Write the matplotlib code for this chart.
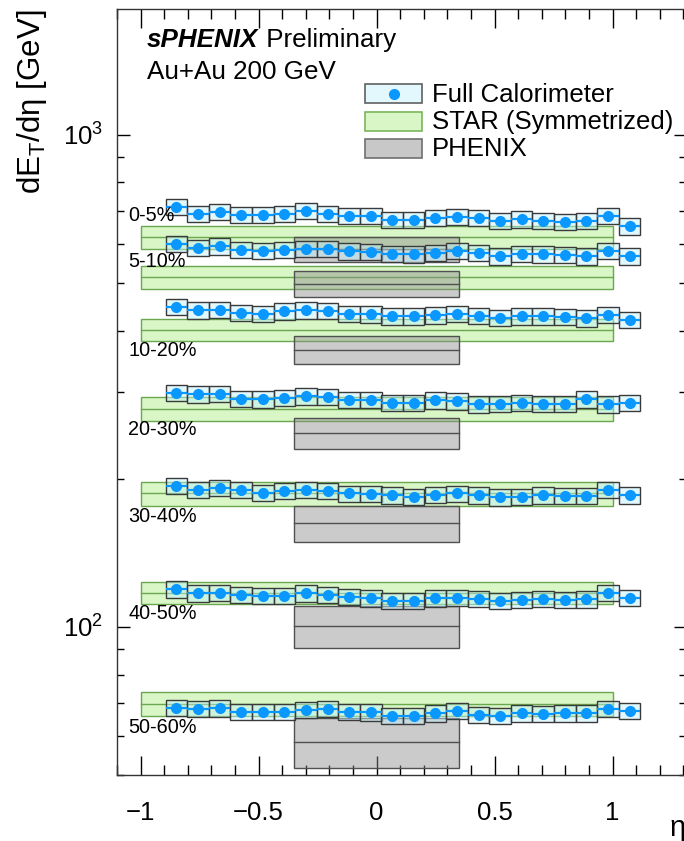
import numpy as np
import matplotlib
matplotlib.use("Agg")
import matplotlib.pyplot as plt
from matplotlib.patches import Rectangle
from matplotlib.lines import Line2D
from matplotlib.ticker import LogLocator, NullFormatter, MultipleLocator, FuncFormatter

plt.rcParams['font.family'] = ['Liberation Sans', 'DejaVu Sans']

# eta bin centres of the calorimeter measurement, bin width 0.0914
eta = [-0.848, -0.757, -0.665, -0.574, -0.482, -0.391, -0.300, -0.208, -0.117, -0.025, 0.066,
       0.157, 0.249, 0.340, 0.432, 0.523, 0.614, 0.706, 0.797, 0.889, 0.980, 1.072]
bin_width = 0.0914
calo_sys = 0.038  # relative systematic, drawn as boxes

centralities = ["0-5%", "5-10%", "10-20%", "20-30%", "30-40%", "40-50%", "50-60%"]

# sPHENIX full calorimeter dE_T/deta [GeV]
calo_0_5 = [713, 691, 696, 688, 686, 691, 699, 691, 683, 683, 672,
            672, 678, 680, 677, 668, 673, 668, 665, 668, 683, 651]
calo_5_10 = [600.6, 589.5, 593, 584, 580, 584, 587, 587, 579, 577, 573,
             571, 575, 580, 575, 566, 573, 571, 569, 566, 580, 566]
calo_10_20 = [446.6, 439.8, 441.2, 434.2, 433.0, 437.7, 439.8, 438.4, 433.0, 431.6, 427.6,
              427.6, 429.5, 433.0, 428.2, 425.0, 427.6, 427.6, 426.2, 423.6, 430.9, 421.0]
calo_20_30 = [299.2, 296.9, 297.8, 290.9, 290.0, 291.8, 294.1, 293.1, 289.6, 289.6, 285.6,
              285.6, 288.6, 287.3, 283.3, 284.2, 285.6, 284.2, 284.2, 290.0, 283.3, 285.0]
calo_30_40 = [193.1, 190.1, 191.9, 189.5, 187.1, 188.6, 190.1, 188.9, 186.6, 186.0, 185.1,
              183.7, 185.7, 186.6, 185.1, 183.2, 183.7, 185.1, 184.3, 184.5, 189.5, 185.1]
calo_40_50 = [119.1, 116.9, 117.4, 116.0, 115.4, 115.4, 116.9, 116.0, 115.1, 114.2, 112.9,
              112.9, 114.2, 114.7, 113.8, 112.8, 113.3, 113.8, 113.3, 113.7, 117.4, 114.5]
calo_50_60 = [68.47, 68.06, 68.28, 67.20, 67.20, 67.20, 67.74, 68.06, 67.20, 67.01, 65.95,
              65.95, 66.69, 67.52, 66.16, 65.95, 66.69, 66.47, 66.69, 66.69, 68.06, 67.43]

# STAR (symmetrized), |eta| < 1
star_vals = [619.5, 513.8, 401.8, 277.6, 186.6, 117.4, 69.7]
star_errs = [33.0, 28.0, 21.0, 15.6, 10.5, 6.1, 3.9]

# PHENIX, |eta| < 0.35
phenix_vals = [586.4, 498.2, 365.9, 247.7, 162.2, 100.5, 58.4]
phenix_errs = [34.0, 29.5, 24.0, 17.5, 13.7, 9.8, 6.8]

label_y = [685, 553, 365, 251.5, 167.4, 106.6, 62.3]

calo_all = [calo_0_5, calo_5_10, calo_10_20, calo_20_30, calo_30_40, calo_40_50, calo_50_60]

blue = '#0a98ff'
calo_face = '#bff0ff'
star_face = '#d8f6c6'
star_edge = '#6aa84f'
phenix_face = '#8c8c8c'
box_edge = '#3a3a3a'

W, H = 684, 841
fig = plt.figure(figsize=(W / 100, H / 100), dpi=100)
ax = fig.add_axes([117 / W, 66 / H, (685.8 - 117) / W, (775 - 9) / H])
ax.set_yscale('log')


def px(x, y):
    # pixel position (from top-left) -> figure fraction
    return x / W, 1 - y / H


for i in range(len(centralities)):
    # STAR band
    sv, se = star_vals[i], star_errs[i]
    ax.add_patch(Rectangle((-1.0, sv - se), 2.0, 2 * se, facecolor=star_face,
                           edgecolor=star_edge, lw=1.0, zorder=1))
    ax.plot([-1.0, 1.0], [sv, sv], color=star_edge, lw=1.0, zorder=1)

for i in range(len(centralities)):
    # PHENIX band
    pv, pe = phenix_vals[i], phenix_errs[i]
    ax.add_patch(Rectangle((-0.35, pv - pe), 0.70, 2 * pe, facecolor=phenix_face, alpha=0.45,
                           edgecolor='none', zorder=2))
    ax.add_patch(Rectangle((-0.35, pv - pe), 0.70, 2 * pe, facecolor='none',
                           edgecolor='#505050', lw=1.0, zorder=2))
    ax.plot([-0.35, 0.35], [pv, pv], color='#505050', lw=1.0, zorder=2)

for i, vals in enumerate(calo_all):
    vals = np.array(vals)
    for x, v in zip(eta, vals):
        ax.add_patch(Rectangle((x - bin_width / 2, v * (1 - calo_sys)), bin_width,
                               2 * v * calo_sys, facecolor=calo_face, alpha=0.45,
                               edgecolor='none', zorder=3))
        ax.add_patch(Rectangle((x - bin_width / 2, v * (1 - calo_sys)), bin_width,
                               2 * v * calo_sys, facecolor='none',
                               edgecolor=box_edge, lw=1.0, zorder=3))
    ax.errorbar(eta, vals, xerr=bin_width / 2, fmt='o', color=blue, ms=7,
                elinewidth=1.6, capsize=0, zorder=4)
    ax.text(-1.053, label_y[i], centralities[i], fontsize=14.3, ha='left', va='center', zorder=5)

ax.set_xlim(-1.1, 1.31)
ax.set_ylim(50, 1800)

ax.xaxis.set_major_locator(MultipleLocator(0.5))
ax.xaxis.set_minor_locator(MultipleLocator(0.1))
ax.xaxis.set_major_formatter(FuncFormatter(lambda v, p: ('%g' % v).replace('-', '\u2212')))
ax.yaxis.set_major_locator(LogLocator(base=10))
ax.yaxis.set_minor_locator(LogLocator(base=10, subs=np.arange(2, 10)))
ax.yaxis.set_minor_formatter(NullFormatter())

ax.tick_params(axis='x', which='major', direction='in', length=14, width=1,
               top=True, labelsize=18.5, pad=19)
ax.tick_params(axis='x', which='minor', direction='in', length=7, width=1, top=True)
ax.tick_params(axis='y', which='major', direction='in', length=9, width=1,
               right=True, labelsize=18.5, pad=10)
ax.tick_params(axis='y', which='minor', direction='in', length=5, width=1, right=True)
for s in ax.spines.values():
    s.set_color('#333333')
    s.set_linewidth(1.0)

# axis titles
ax.text(1.0, -0.069, 'η', transform=ax.transAxes, fontsize=21, ha='right', va='center',
        clip_on=False)
fig.text(*px(32, 10), 'dE$_\\mathregular{T}$/dη [GeV]', rotation=90,
         ha='center', va='top', fontsize=22.5)

t1 = ax.text(0.053, 0.950, 'sPHENIX', transform=ax.transAxes, fontsize=18.7,
             fontweight='bold', fontstyle='italic', va='baseline')
ax.annotate(' Preliminary', xy=(1, 0), xycoords=t1, fontsize=18.7, va='bottom')
ax.text(0.053, 0.909, 'Au+Au 200 GeV', transform=ax.transAxes, fontsize=18.7, va='baseline')

# legend, drawn by hand for tight row spacing
leg_rows = [('Full Calorimeter', '#e3f8fd', '#606060', 93.5),
            ('STAR (Symmetrized)', star_face, '#7ab55c', 121.2),
            ('PHENIX', '#c8c8c8', '#707070', 148.3)]
for text, face, edge, yc in leg_rows:
    x0, y0 = px(365, yc + 9.5)
    x1, y1 = px(422, yc - 9.5)
    fig.add_artist(Rectangle((x0, y0), x1 - x0, y1 - y0, transform=fig.transFigure,
                             facecolor=face, edgecolor=edge, lw=1.2))
    fig.text(*px(432, yc + 1), text, fontsize=18.5, ha='left', va='center')
fig.add_artist(Line2D([px(393.5, 0)[0]], [px(0, 93.5)[1]], transform=fig.transFigure,
                      marker='o', color=blue, ms=7, ls='none'))

fig.savefig('out.png', dpi=100)
